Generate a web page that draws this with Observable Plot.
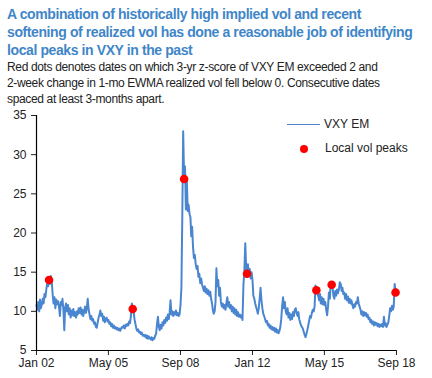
<!DOCTYPE html>
<html>
<head>
<meta charset="utf-8">
<script src="https://cdn.jsdelivr.net/npm/d3@7"></script>
<script src="https://cdn.jsdelivr.net/npm/@observablehq/plot@0.6"></script>
<style>
  body { margin:0; background:#fff; font-family:"Liberation Sans", Arial, sans-serif; }
  #wrap { position:relative; width:432px; height:378px; overflow:hidden; }
  #title { position:absolute; left:7px; top:5px; font-size:14px; font-weight:bold; color:#3f86c8; line-height:18px; letter-spacing:-0.4px; white-space:nowrap; }
  #sub { position:absolute; left:7px; top:59px; font-size:12px; color:#222; line-height:16px; letter-spacing:-0.35px; white-space:nowrap; }
  #chart { position:absolute; left:0; top:105px; }
  .leg { position:absolute; font-size:12px; color:#222; white-space:nowrap; }
</style>
</head>
<body>
<div id="wrap">
  <div id="title">A combination of historically high implied vol and recent<br>softening of realized vol has done a reasonable job of identifying<br>local peaks in VXY in the past</div>
  <div id="sub">Red dots denotes dates on which 3-yr z-score of VXY EM exceeded 2 and<br>2-week change in 1-mo EWMA realized vol fell below 0. Consecutive dates<br>spaced at least 3-months apart.</div>
  <div id="chart"></div>
  <div style="position:absolute;left:287px;top:124px;width:33px;height:0;border-top:1.8px solid #4a86d0;"></div>
  <div class="leg" style="left:324px;top:117px;">VXY EM</div>
  <div style="position:absolute;left:300px;top:145px;width:8px;height:8px;border-radius:50%;background:#ff0000;"></div>
  <div class="leg" style="left:325px;top:141px;">Local vol peaks</div>
</div>
<script>
// Semi-monthly VXY EM readings (1st and 16th of each month), starting Jan 2002
const vxy2002 = [10.8,10.2,11.2,10.0,11.5,10.4,10.9,11.6,11.0,12.2,11.8,12.8,13.6,13.2,14.3,13.5,14.5,13.8,12.2,11.0,11.8,10.4,11.5,10.9];
const vxy2003 = [11.3,10.6,9.4,11.2,10.8,11.6,10.2,7.6,10.5,11.0,10.0,10.8,9.6,10.4,9.2,10.1,9.5,10.3,9.4,9.9,9.2,10.0,9.6,10.4];
const vxy2004 = [9.8,10.5,9.6,10.2,9.4,10.0,10.6,9.8,10.4,11.6,10.2,9.6,9.0,9.4,8.8,9.0,8.4,8.6,8.0,7.9,8.6,9.2,9.6,10.1];
const vxy2005 = [9.4,9.7,8.8,9.3,8.6,9.0,9.2,8.7,8.9,8.4,8.6,8.1,8.4,7.9,8.2,7.8,8.0,7.7,7.9,7.6,7.8,7.5,7.8,8.0];
const vxy2006 = [7.9,8.2,7.8,8.3,8.1,8.4,8.2,8.7,8.5,9.4,11.0,10.3,10.0,9.0,8.4,7.8,7.5,7.7,7.3,7.4,7.1,7.3,6.9,7.0];
const vxy2007 = [6.8,7.0,6.6,6.9,6.5,6.8,6.6,6.4,6.7,6.3,6.6,6.5,6.9,7.1,8.4,9.3,8.0,7.6,8.3,7.8,8.6,8.2,8.9,8.5];
const vxy2008 = [9.2,8.8,9.6,9.0,9.8,11.4,9.6,10.0,9.4,9.9,9.6,10.1,9.5,9.8,9.4,9.6,10.8,13.0,22.0,33.0,26.9,28.5,23.0,27.0];
const vxy2009 = [22.8,23.6,22.4,22.0,19.6,20.8,18.2,16.8,17.2,16.0,15.4,15.8,14.4,14.8,13.6,14.2,13.4,13.0,12.6,13.2,12.4,12.9,12.2,12.7];
const vxy2010 = [12.0,12.5,11.6,11.0,10.2,9.7,10.0,11.2,15.5,13.2,14.0,12.0,13.0,11.2,10.6,11.0,10.4,10.8,10.2,11.0,11.8,10.6,11.2,10.4];
const vxy2011 = [10.8,10.0,10.6,9.8,10.4,9.6,10.2,9.4,9.9,9.3,9.6,9.2,9.5,8.9,13.4,15.0,18.7,15.6,14.8,16.0,14.6,15.4,14.2,15.0];
const vxy2012 = [14.0,12.0,11.6,11.0,10.6,10.2,9.7,10.4,11.6,13.0,11.4,10.4,9.7,9.4,9.0,8.6,8.8,8.2,8.4,7.9,8.2,7.7,8.0,7.6];
const vxy2013 = [7.9,7.4,7.8,7.3,7.6,7.2,7.5,8.0,9.0,10.6,11.8,10.4,11.2,10.0,9.6,10.4,9.2,9.8,8.9,9.6,9.0,9.9,9.4,10.2];
const vxy2014 = [10.4,9.8,9.4,9.9,9.0,8.6,8.2,8.0,7.8,7.4,7.0,6.7,7.1,7.6,8.2,8.8,9.4,9.2,9.8,10.2,10.0,10.6,13.3,12.7];
const vxy2015 = [12.4,12.0,11.4,12.2,11.0,11.8,10.9,11.6,10.8,11.2,10.2,9.5,10.6,12.4,11.6,13.7,13.4,13.0,12.0,11.6,12.6,12.0,12.8,12.3];
const vxy2016 = [12.8,13.7,13.5,12.6,13.0,12.2,12.4,11.6,12.2,11.4,11.9,11.1,11.6,11.0,11.4,10.8,10.4,10.9,10.6,11.2,11.0,11.8,11.0,10.6];
const vxy2017 = [10.2,9.6,10.0,9.4,9.9,9.5,9.8,9.3,9.6,9.0,9.2,8.6,8.9,8.4,8.7,8.2,8.6,8.3,8.5,8.1,8.4,8.0,8.3,8.1];
const vxy2018 = [8.4,8.0,9.3,8.2,8.5,8.0,8.3,8.6,9.4,10.4,10.0,10.7,10.2,10.6,13.5,12.4,12.8];

// Local vol peaks (red dots)
const peakDates = ["2002-08-01","2006-06-16","2008-11-01","2011-10-01","2014-12-16","2015-09-01","2018-08-16"];
const peakValues = [14.0,10.3,26.9,14.8,12.7,13.4,12.4];

// Axis ticks
const xTickDates = ["2002-01-01","2005-05-01","2008-09-01","2012-01-01","2015-05-01","2018-09-01"];
const xTickLabels = ["Jan 02","May 05","Sep 08","Jan 12","May 15","Sep 18"];
const yTicks = [5,10,15,20,25,30,35];

const values = [].concat(vxy2002,vxy2003,vxy2004,vxy2005,vxy2006,vxy2007,vxy2008,vxy2009,vxy2010,vxy2011,vxy2012,vxy2013,vxy2014,vxy2015,vxy2016,vxy2017,vxy2018);
const series = values.map((v,i) => ({date: new Date(Date.UTC(2002, Math.floor(i/2), i%2 ? 16 : 1)), value: v}));
const peaks = peakDates.map((d,i) => ({date: new Date(d + "T00:00:00Z"), value: peakValues[i]}));
const xTicks = xTickDates.map(d => new Date(d + "T00:00:00Z"));
const labelOf = new Map(xTicks.map((d,i) => [+d, xTickLabels[i]]));
const x0 = xTicks[0], x1 = xTicks[xTicks.length-1];

const chart = Plot.plot({
  width: 432,
  height: 273,
  marginTop: 10,
  marginBottom: 28,
  marginLeft: 36,
  marginRight: 36,
  style: {fontSize: "12px", fontFamily: "'Liberation Sans', Arial, sans-serif", color: "#222", background: "transparent"},
  x: {type: "utc", domain: [x0, x1], ticks: xTicks, tickFormat: d => labelOf.get(+d), tickSize: 5, tickPadding: 3, label: null},
  y: {domain: [5, 35], ticks: yTicks, tickSize: 5, tickPadding: 5, label: null},
  marks: [
    Plot.line(series, {x: "date", y: "value", stroke: "#4a86d0", strokeWidth: 2}),
    Plot.dot(peaks, {x: "date", y: "value", r: 4.3, fill: "#ff0000", stroke: "none"}),
    Plot.ruleX([x0], {stroke: "#000", strokeWidth: 1.2}),
    Plot.ruleY([5], {stroke: "#000", strokeWidth: 1.2})
  ]
});
document.getElementById("chart").appendChild(chart);
</script>
</body>
</html>
